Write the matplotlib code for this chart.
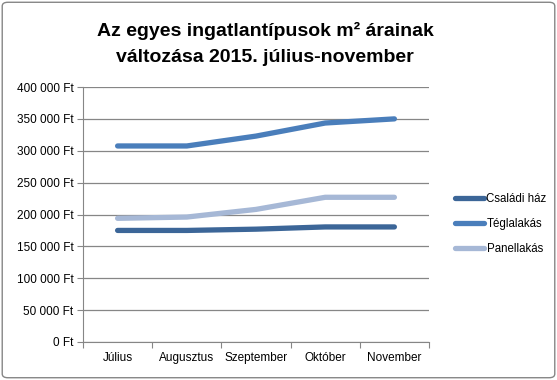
import matplotlib.pyplot as plt
from matplotlib.patches import FancyBboxPatch
from matplotlib.ticker import FuncFormatter

months = ["Július", "Augusztus", "Szeptember", "Október", "November"]
csaladi_haz = [175000, 175000, 177000, 180500, 180500]
teglalakas = [307500, 307500, 323000, 343500, 350000]
panellakas = [194000, 196000, 208000, 227000, 227000]

plt.rcParams["font.family"] = ["Liberation Sans", "DejaVu Sans"]

fig = plt.figure(figsize=(5.57, 3.8), dpi=100)
ax = fig.add_axes([83 / 557, 1 - 342 / 380, (429 - 83) / 557, (342 - 87) / 380])

# chart border
fig.patches.append(FancyBboxPatch((0.004, 0.006), 0.992, 0.988, boxstyle="round,pad=0,rounding_size=0.01",
                                  transform=fig.transFigure, fill=False, edgecolor="#868686", linewidth=1))

x = [i + 0.5 for i in range(len(months))]
ax.plot(x, csaladi_haz, color="#3C6698", lw=3.8, solid_capstyle="round", label="Családi ház")
ax.plot(x, teglalakas, color="#4A7EBB", lw=3.8, solid_capstyle="round", label="Téglalakás")
ax.plot(x, panellakas, color="#A6B8D6", lw=3.8, solid_capstyle="round", label="Panellakás")

ax.set_xlim(0, 5)
ax.set_ylim(0, 400000)
ax.set_yticks(range(0, 400001, 50000))
ax.yaxis.set_major_formatter(FuncFormatter(lambda v, p: f"{int(v):,} Ft".replace(",", " ")))
ax.set_xticks(range(6))
ax.set_xticklabels([])
ax.set_xticks(x, minor=True)
ax.set_xticklabels(months, minor=True)
ax.tick_params(axis="x", which="minor", length=0, pad=7, labelsize=8.5)
ax.tick_params(axis="x", which="major", length=4, color="#868686")
ax.tick_params(axis="y", length=4, color="#868686", labelsize=8.5, pad=3)
ax.grid(axis="y", color="#868686", lw=0.9)
ax.set_axisbelow(True)
for s in ["top", "right"]:
    ax.spines[s].set_visible(False)
for s in ["left", "bottom"]:
    ax.spines[s].set_color("#868686")

fig.text(265 / 557, 1 - 44 / 380, "Az egyes ingatlantípusok m² árainak\nváltozása 2015. július-november",
         ha="center", va="center", fontsize=14, fontweight="bold", linespacing=1.75)

ax.legend(loc="center left", frameon=False, fontsize=8.3, handlelength=2.5,
          handletextpad=0.2, labelspacing=1.1,
          bbox_to_anchor=(445 / 557, 1 - 224 / 380), bbox_transform=fig.transFigure)

fig.savefig("out.png", dpi=100)
